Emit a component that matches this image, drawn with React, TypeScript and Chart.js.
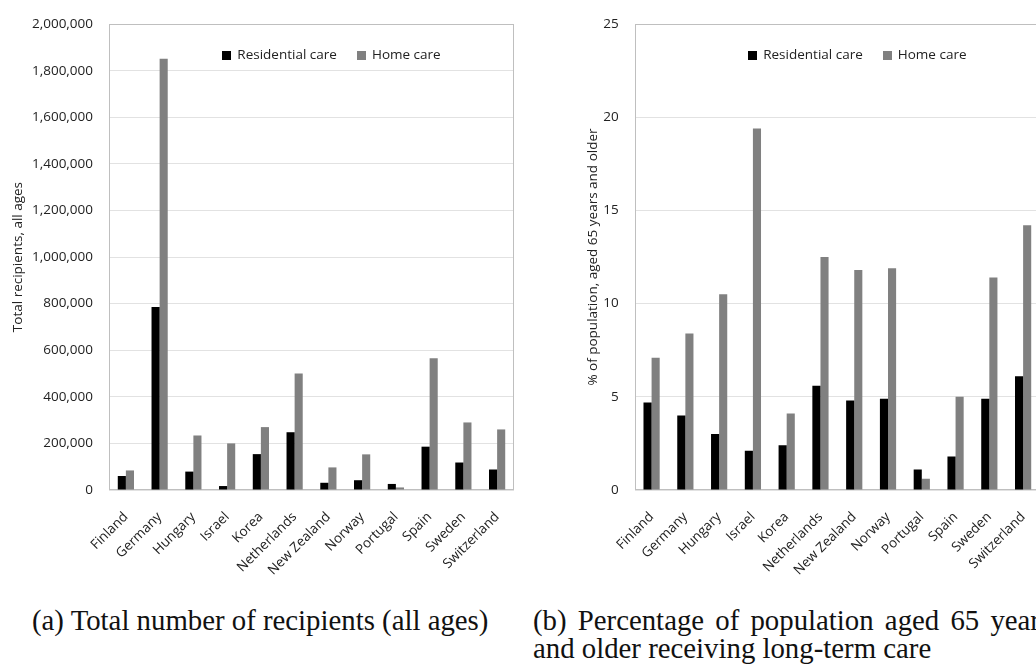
import React, { useEffect, useRef } from 'react';
import { Chart, registerables } from 'chart.js';

Chart.register(...registerables);

const countries = ['Finland', 'Germany', 'Hungary', 'Israel', 'Korea', 'Netherlands', 'New Zealand', 'Norway', 'Portugal', 'Spain', 'Sweden', 'Switzerland'];
const seriesNames = ['Residential care', 'Home care'];
const seriesColors = ['#000000', '#808080'];

// (a) Total recipients, all ages
const residentialTotal = [60000, 786000, 79000, 17000, 154000, 248000, 31000, 42000, 26000, 186000, 118000, 88000];
const homeTotal = [84000, 1851000, 234000, 200000, 270000, 500000, 97000, 153000, 11000, 566000, 290000, 260000];
const totalAxis = { max: 2000000, step: 200000 };

// (b) % of population aged 65+
const residentialPct = [4.7, 4.0, 3.0, 2.1, 2.4, 5.6, 4.8, 4.9, 1.1, 1.8, 4.9, 6.1];
const homePct = [7.1, 8.4, 10.5, 19.4, 4.1, 12.5, 11.8, 11.9, 0.6, 5.0, 11.4, 14.2];
const pctAxis = { max: 25, step: 5 };

const captionA = '(a) Total number of recipients (all ages)';
const captionB1 = '(b) Percentage of population aged 65 years';
const captionB2 = 'and older receiving long-term care';

const FONT = "'Open Sans', sans-serif";
const FONT_SIZE = 13.5;
const TEXT = '#222222';

const plotBorder = {
  id: 'plotBorder',
  beforeDatasetsDraw(chart: any) {
    const { ctx, chartArea } = chart;
    const l = Math.round(chartArea.left) + 0.5;
    const t = Math.round(chartArea.top) + 0.5;
    const r = Math.round(chartArea.right) - 0.5;
    const b = Math.round(chartArea.bottom) - 0.5;
    ctx.save();
    ctx.strokeStyle = '#bfbfbf';
    ctx.lineWidth = 1;
    ctx.strokeRect(l, t, r - l, b - t);
    ctx.restore();
  },
};

// Horizontal legend drawn inside the plot area, from the datasets' labels and colours
const insideLegend = {
  id: 'insideLegend',
  afterDraw(chart: any, _args: any, opts: any) {
    const { ctx, chartArea } = chart;
    const box = opts.box ?? 9;
    const gap = opts.gap ?? 6;
    const itemGap = opts.itemGap ?? 20;
    ctx.save();
    ctx.font = `${FONT_SIZE}px ${FONT}`;
    ctx.textBaseline = 'middle';
    ctx.textAlign = 'left';
    const items = chart.data.datasets.map((ds: any) => ({
      label: ds.label,
      color: ds.backgroundColor,
      w: box + gap + ctx.measureText(ds.label).width,
    }));
    const total = items.reduce((s: number, it: any) => s + it.w, 0) + itemGap * (items.length - 1);
    let x = (chartArea.left + chartArea.right) / 2 + (opts.dx ?? 0) - total / 2;
    const y = chartArea.top + (opts.dy ?? 31);
    for (const it of items) {
      ctx.fillStyle = it.color;
      ctx.fillRect(Math.round(x), Math.round(y - box / 2), box, box);
      ctx.fillStyle = TEXT;
      ctx.fillText(it.label, x + box + gap, y);
      x += it.w + itemGap;
    }
    ctx.restore();
  },
};

type PanelProps = {
  res: number[];
  home: number[];
  yTitle: string;
  axis: { max: number; step: number };
  fmt: (v: number) => string;
  left: number;
  width: number;
  yAxisWidth: number;
  titlePad: number;
};

function BarPanel(p: PanelProps) {
  const ref = useRef<HTMLCanvasElement | null>(null);
  useEffect(() => {
    if (!ref.current) return;
    const chart = new Chart(ref.current, {
      type: 'bar',
      data: {
        labels: countries,
        datasets: [
          { label: seriesNames[0], data: p.res, backgroundColor: seriesColors[0], borderWidth: 0, categoryPercentage: 0.48, barPercentage: 1.0 },
          { label: seriesNames[1], data: p.home, backgroundColor: seriesColors[1], borderWidth: 0, categoryPercentage: 0.48, barPercentage: 1.0 },
        ],
      },
      plugins: [plotBorder, insideLegend],
      options: {
        responsive: false,
        animation: false,
        layout: { padding: { top: 14, right: 6, left: 0, bottom: 0 } },
        plugins: {
          insideLegend: { dx: 20, dy: 31, box: 9, gap: 6, itemGap: 20 },
          tooltip: { enabled: false },
          legend: { display: false },
        } as any,
        scales: {
          x: {
            grid: { display: false },
            border: { display: false },
            ticks: {
              autoSkip: false,
              minRotation: 45,
              maxRotation: 45,
              padding: 11,
              color: TEXT,
              font: { family: FONT, size: FONT_SIZE },
            },
            afterFit: (s: any) => { s.height = 100; },
          },
          y: {
            min: 0,
            max: p.axis.max,
            grid: { color: '#e2e2e2', drawTicks: false },
            border: { display: false },
            ticks: {
              stepSize: p.axis.step,
              padding: 16,
              color: TEXT,
              font: { family: FONT, size: FONT_SIZE },
              callback: (v: any) => p.fmt(Number(v)),
            },
            title: {
              display: true,
              text: p.yTitle,
              color: TEXT,
              font: { family: FONT, size: FONT_SIZE },
              padding: { top: p.titlePad, bottom: 0 },
            },
            afterFit: (s: any) => { s.width = p.yAxisWidth; },
          },
        },
      } as any,
    });
    return () => chart.destroy();
  }, []);
  return (
    <canvas
      ref={ref}
      width={p.width}
      height={590}
      style={{ position: 'absolute', left: p.left, top: 0, width: p.width, height: 590 }}
    />
  );
}

const captionStyle: React.CSSProperties = {
  position: 'absolute',
  fontFamily: "'Liberation Serif', 'Times New Roman', serif",
  fontSize: 28.8,
  lineHeight: '28px',
  color: '#111',
  whiteSpace: 'nowrap',
};

export default function App() {
  return (
    <div style={{ position: 'fixed', left: 0, top: 0, width: 1036, height: 671, overflow: 'hidden', background: '#fff' }}>
      <BarPanel
        res={residentialTotal}
        home={homeTotal}
        yTitle="Total recipients, all ages"
        axis={totalAxis}
        fmt={(v) => v.toLocaleString('en-US')}
        left={0}
        width={520}
        yAxisWidth={109}
        titlePad={10.4}
      />
      <BarPanel
        res={residentialPct}
        home={homePct}
        yTitle="% of population, aged 65 years and older"
        axis={pctAxis}
        fmt={(v) => String(v)}
        left={520}
        width={526}
        yAxisWidth={114.7}
        titlePad={64.9}
      />
      <div style={{ ...captionStyle, left: 32, top: 606 }}>{captionA}</div>
      <div style={{ ...captionStyle, left: 533, top: 606 }}>
        <div style={{ wordSpacing: 4 }}>{captionB1}</div>
        <div>{captionB2}</div>
      </div>
    </div>
  );
}
